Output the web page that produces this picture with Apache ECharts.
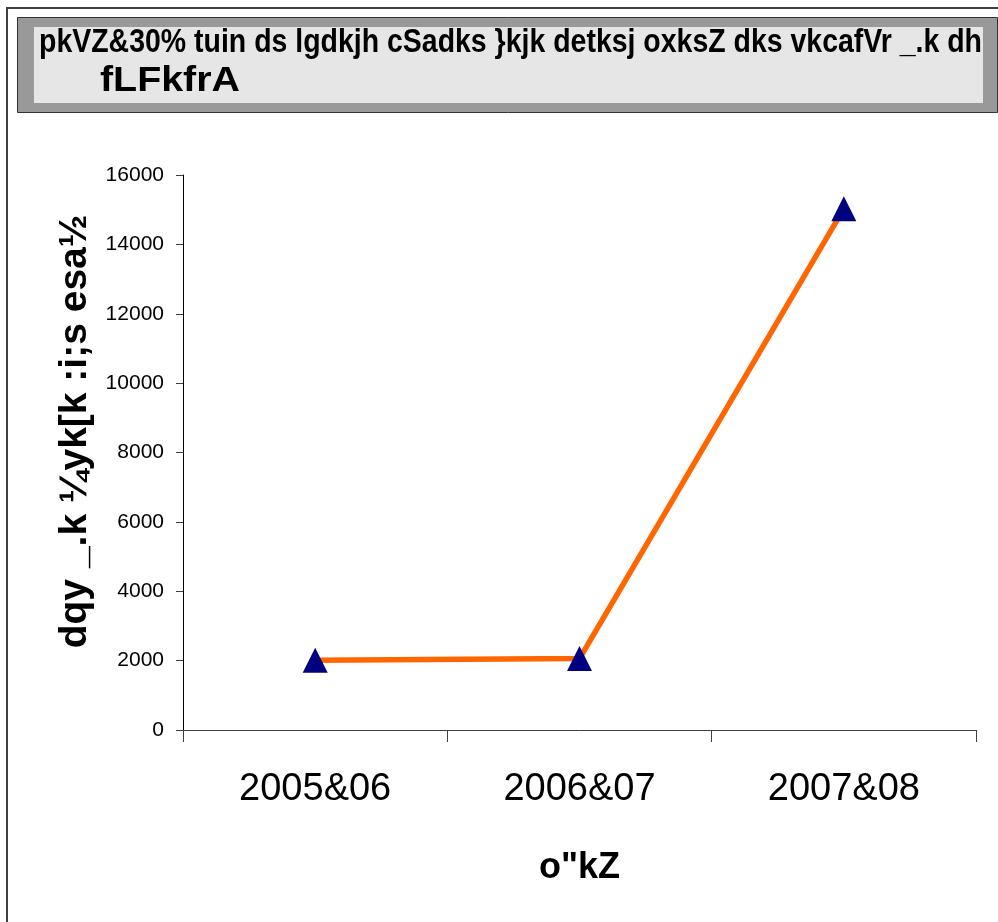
<!DOCTYPE html>
<html>
<head>
<meta charset="utf-8">
<script src="https://cdn.jsdelivr.net/npm/echarts@6/dist/echarts.min.js"></script>
<style>
html,body{margin:0;padding:0;background:#fff;}
#chart{width:998px;height:922px;}
</style>
</head>
<body>
<div id="chart"></div>
<script>
var titleLine1 = 'pkVZ&30% tuin ds lgdkjh cSadks }kjk detksj oxksZ dks vkcafVr _.k dh';
var titleLine2 = 'fLFkfrA';
var categories = ['2005&06', '2006&07', '2007&08'];
var loanValues = [2010, 2060, 15030];
var yTicks = {min: 0, max: 16000, interval: 2000};
var xAxisName = 'o"kZ';
var yAxisName = 'dqy _.k ¼yk[k :i;s esa½';

var FONT = '"Liberation Sans Narrow", "Arial Narrow", "Liberation Sans", Arial, sans-serif';

function fitScale(text, font, targetWidth) {
  var c = document.createElement('canvas').getContext('2d');
  c.font = font;
  var w = c.measureText(text).width;
  return w > 0 ? targetWidth / w : 1;
}
var TITLE_FONT = 'bold 34px ' + FONT;
var s1 = fitScale(titleLine1, TITLE_FONT, 943);
var s2 = fitScale(titleLine2, TITLE_FONT, 140);

var chart = echarts.init(document.getElementById('chart'), null, {renderer: 'canvas'});
chart.setOption({
  backgroundColor: '#ffffff',
  animation: false,
  graphic: [
    {type: 'polyline', z: -10, silent: true,
     shape: {points: [[7, 922], [7, 8], [998, 8]]},
     style: {stroke: '#404040', lineWidth: 2, fill: null}},
    {type: 'rect', z: -9, silent: true,
     shape: {x: 17.5, y: 17.5, width: 980, height: 95},
     style: {fill: '#999999', stroke: '#333333', lineWidth: 1}},
    {type: 'rect', z: -8, silent: true,
     shape: {x: 34, y: 27, width: 949, height: 76},
     style: {fill: '#e6e6e6'}},
    {type: 'text', z: 10, silent: true, x: 39, y: 26, scaleX: s1,
     style: {text: titleLine1, font: TITLE_FONT, fill: '#000', verticalAlign: 'top', align: 'left'}},
    {type: 'text', z: 10, silent: true, x: 100, y: 63, scaleX: s2, scaleY: 1.05,
     style: {text: titleLine2, font: TITLE_FONT, fill: '#000', verticalAlign: 'top', align: 'left'}}
  ],
  grid: {left: 183, right: 22, top: 175, bottom: 192, containLabel: false},
  xAxis: {
    type: 'category',
    data: categories,
    boundaryGap: true,
    name: xAxisName,
    nameLocation: 'middle',
    nameGap: 120,
    nameTextStyle: {fontFamily: FONT, fontWeight: 'bold', fontSize: 36, color: '#000'},
    axisLine: {show: true, lineStyle: {color: '#404040', width: 1}},
    axisTick: {show: true, length: 12, lineStyle: {color: '#404040'}},
    axisLabel: {fontFamily: FONT, fontSize: 38, color: '#000', margin: 41},
    splitLine: {show: false}
  },
  yAxis: {
    type: 'value',
    min: yTicks.min,
    max: yTicks.max,
    interval: yTicks.interval,
    name: yAxisName,
    nameLocation: 'middle',
    nameGap: 88,
    nameRotate: 90,
    nameTextStyle: {fontFamily: FONT, fontWeight: 'bold', fontSize: 39, color: '#000', padding: [0, 0, 0, 42]},
    axisLine: {show: true, lineStyle: {color: '#000', width: 1}},
    axisTick: {show: true, length: 7, lineStyle: {color: '#404040'}},
    axisLabel: {fontFamily: FONT, fontSize: 21, color: '#000', margin: 19,
                formatter: function (v) { return String(v); }},
    splitLine: {show: false}
  },
  series: [{
    type: 'line',
    data: loanValues,
    symbol: 'triangle',
    symbolSize: 25,
    itemStyle: {color: '#000080'},
    lineStyle: {color: '#FF6600', width: 5.5},
    z: 3
  }]
});
</script>
</body>
</html>
